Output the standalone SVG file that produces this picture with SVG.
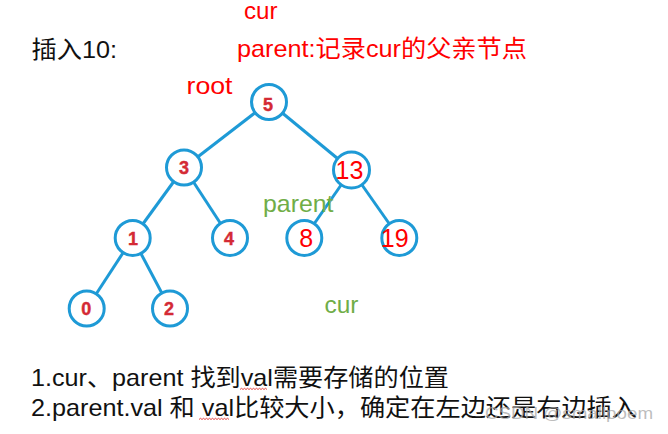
<svg xmlns="http://www.w3.org/2000/svg" width="668" height="434" viewBox="0 0 668 434">
<style>
.t{font-family:"Liberation Sans","Noto Sans CJK SC",sans-serif;font-size:24px}
.red{fill:#ff0000}
.grn{fill:#70ad47}
.blk{fill:#111111}
.nd circle{fill:#ffffff;stroke:#1e9ad6;stroke-width:3}
.nd text{font-family:"Liberation Sans","Noto Sans CJK SC",sans-serif;font-size:18px;font-weight:bold;fill:#d42a35;stroke:#d42a35;stroke-width:0.4;text-anchor:middle}
.nd text.big{font-size:25px;font-weight:normal;fill:#ff0000;stroke:none}
#edges line{stroke:#1e9ad6;stroke-width:3}
.sq{fill:none;stroke:#e0302a;stroke-width:0.9}
</style>
<rect width="668" height="434" fill="#ffffff"/>
<g id="edges">
<line x1="269" y1="102" x2="184" y2="167.5"/>
<line x1="269" y1="102" x2="351.5" y2="170"/>
<line x1="184" y1="167.5" x2="132.7" y2="238"/>
<line x1="184" y1="167.5" x2="230" y2="238"/>
<line x1="351.5" y1="170" x2="304.3" y2="238"/>
<line x1="351.5" y1="170" x2="399.3" y2="238"/>
<line x1="132.7" y1="238" x2="86.7" y2="308.5"/>
<line x1="132.7" y1="238" x2="170" y2="308.5"/>
</g>
<g id="n5" class="nd"><circle cx="269" cy="102" r="17.5"/><text x="268" y="111">5</text></g>
<g id="n3" class="nd"><circle cx="184" cy="167.5" r="17.5"/><text x="184" y="173.5">3</text></g>
<g id="n13" class="nd"><circle cx="351.5" cy="170" r="18"/><text class="big" x="349.5" y="179">13</text></g>
<g id="n1" class="nd"><circle cx="132.7" cy="238" r="17.5"/><text x="133" y="244.5">1</text></g>
<g id="n4" class="nd"><circle cx="230" cy="238" r="17.5"/><text x="229" y="244.5">4</text></g>
<g id="n8" class="nd"><circle cx="304.3" cy="238" r="17.5"/><text class="big" x="306.2" y="247.3">8</text></g>
<g id="n19" class="nd"><circle cx="399.3" cy="238" r="17.5"/><text class="big" x="394.7" y="247.3">19</text></g>
<g id="n0" class="nd"><circle cx="86.7" cy="308.5" r="17.5"/><text x="86.2" y="315">0</text></g>
<g id="n2" class="nd"><circle cx="170" cy="308.5" r="17.5"/><text x="169" y="315">2</text></g>
<text class="t red" x="244" y="19" textLength="33.5" lengthAdjust="spacingAndGlyphs">cur</text>
<text class="t blk" x="31.5" y="58" textLength="85.5" lengthAdjust="spacingAndGlyphs">插入10:</text>
<text class="t red" x="237" y="57" textLength="290" lengthAdjust="spacingAndGlyphs">parent:记录cur的父亲节点</text>
<text class="t red" x="186.5" y="94.3" textLength="46" lengthAdjust="spacingAndGlyphs">root</text>
<text class="t grn" x="263" y="211.7" textLength="70.5" lengthAdjust="spacingAndGlyphs">parent</text>
<text class="t grn" x="324.5" y="313" textLength="34" lengthAdjust="spacingAndGlyphs">cur</text>
<text class="t blk" x="31" y="386" textLength="418" lengthAdjust="spacingAndGlyphs">1.cur、parent 找到val需要存储的位置</text>
<text class="t blk" x="31" y="416" textLength="606" lengthAdjust="spacingAndGlyphs">2.parent.val 和 val比较大小，确定在左边还是右边插入</text>
<path class="sq" d="M240 389.5l1.5-1.2 1.5 1.2 1.5-1.2 1.5 1.2 1.5-1.2 1.5 1.2 1.5-1.2 1.5 1.2 1.5-1.2 1.5 1.2 1.5-1.2 1.5 1.2 1.5-1.2 1.5 1.2 1.5-1.2 1.5 1.2 1.5-1.2 1.5 1.2"/>
<path class="sq" d="M199 419.5l1.5-1.2 1.5 1.2 1.5-1.2 1.5 1.2 1.5-1.2 1.5 1.2 1.5-1.2 1.5 1.2 1.5-1.2 1.5 1.2 1.5-1.2 1.5 1.2 1.5-1.2 1.5 1.2 1.5-1.2 1.5 1.2 1.5-1.2 1.5 1.2 1.5-1.2 1.5 1.2"/>
<text x="485" y="419" font-family="Liberation Sans, sans-serif" font-size="16" fill="#a8a8a8" fill-opacity="0.75" textLength="168" lengthAdjust="spacingAndGlyphs">CSDN @smallpoem</text>
</svg>
